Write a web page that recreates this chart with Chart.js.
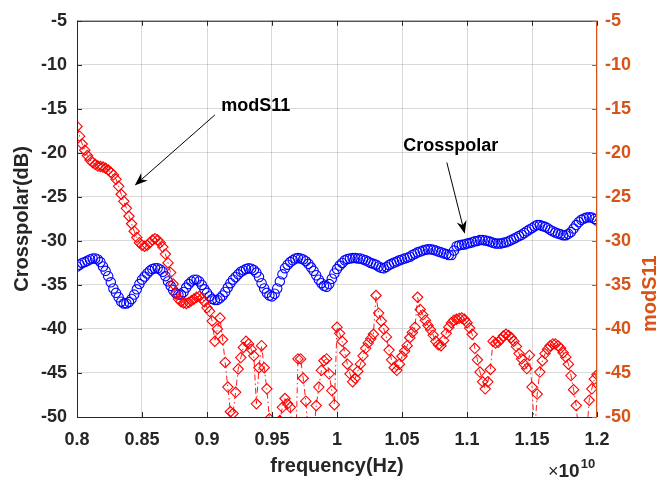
<!DOCTYPE html>
<html><head><meta charset="utf-8">
<script src="https://cdn.jsdelivr.net/npm/chart.js@4.4.1/dist/chart.umd.min.js"></script>
<style>html,body{margin:0;padding:0;background:#fff;}#c{display:block;}</style>
</head><body>
<canvas id="c" width="671" height="483"></canvas>
<script>
// frequency axis in units of 1e10 Hz, sampled every 0.002 (20 MHz)
const freqStart = 0.8;
const freqStep = 0.002;

// Crosspolar (dB), left axis — blue circles
const crosspolar = [
  -32.9,-32.7,-32.5,-32.4,-32.25,-32.1,-32.0,-32.0,-32.1,-32.4,
  -32.9,-33.4,-34.0,-34.7,-35.4,-35.9,-36.4,-36.9,-37.1,-37.1,
  -36.95,-36.6,-36.1,-35.5,-34.9,-34.4,-34.05,-33.7,-33.4,-33.2,
  -33.1,-33.1,-33.25,-33.5,-34.0,-34.6,-35.1,-35.6,-35.95,-36.1,
  -36.1,-35.8,-35.3,-34.9,-34.6,-34.4,-34.4,-34.6,-35.0,-35.5,
  -35.9,-36.3,-36.6,-36.7,-36.7,-36.5,-36.2,-35.8,-35.3,-34.8,
  -34.4,-34.1,-33.8,-33.5,-33.35,-33.2,-33.1,-33.15,-33.3,-33.6,
  -34.1,-34.8,-35.4,-35.9,-36.2,-36.3,-36.0,-35.4,-34.6,-33.8,
  -33.1,-32.7,-32.4,-32.2,-32.0,-31.95,-32.0,-32.1,-32.3,-32.6,
  -33.0,-33.4,-33.9,-34.4,-34.8,-35.1,-35.2,-34.9,-34.3,-33.7,
  -33.2,-32.8,-32.5,-32.2,-32.05,-32.0,-31.95,-31.95,-32.0,-32.0,
  -32.1,-32.2,-32.35,-32.5,-32.6,-32.7,-32.9,-33.05,-33.1,-32.95,
  -32.75,-32.6,-32.45,-32.35,-32.2,-32.1,-32.0,-31.9,-31.8,-31.6,
  -31.45,-31.3,-31.2,-31.1,-31.0,-30.95,-30.95,-31.0,-31.1,-31.2,
  -31.3,-31.4,-31.5,-31.6,-31.6,-31.1,-30.6,-30.5,-30.45,-30.4,
  -30.3,-30.25,-30.15,-30.05,-30.0,-29.9,-29.9,-29.95,-30.0,-30.1,
  -30.2,-30.3,-30.3,-30.3,-30.2,-30.15,-30.05,-29.9,-29.75,-29.6,
  -29.45,-29.3,-29.1,-28.9,-28.7,-28.55,-28.35,-28.2,-28.2,-28.3,
  -28.4,-28.55,-28.75,-28.9,-29.05,-29.15,-29.25,-29.35,-29.35,-29.2,
  -29.0,-28.6,-28.2,-27.85,-27.6,-27.45,-27.35,-27.3,-27.35,-27.5,
  -27.7
];

// modS11 (dB), right axis — red diamonds, dash-dot line
const modS11 = [
  -17.0,-18.1,-19.0,-19.7,-20.3,-20.8,-21.1,-21.3,-21.5,-21.55,
  -21.6,-21.75,-21.95,-22.2,-22.5,-23.0,-23.8,-24.7,-25.5,-26.3,
  -27.2,-28.05,-28.9,-29.6,-30.2,-30.5,-30.6,-30.5,-30.2,-29.9,
  -29.75,-29.9,-30.2,-30.7,-31.5,-32.5,-33.6,-34.9,-36.0,-36.6,
  -36.9,-37.05,-37.1,-37.0,-36.8,-36.6,-36.4,-36.3,-36.5,-36.9,
  -37.6,-38.0,-39.1,-41.4,-40.0,-38.75,-41.2,-43.8,-46.6,-49.4,
  -49.6,-47.2,-44.55,-43.25,-42.1,-41.4,-41.7,-42.3,-43.05,-48.5,
  -44.4,-41.9,-44.4,-46.8,-50.2,-52,-53,-51.5,-50.4,-48.9,
  -47.9,-48.5,-48.9,-52,-55,-43.4,-43.4,-45.6,-48.2,-52,
  -56,-52,-48.7,-46.6,-44.7,-43.6,-43.4,-45.1,-47.0,-48.6,
  -39.8,-40.5,-41.4,-42.7,-44.0,-45.1,-46.0,-45.6,-44.8,-44.0,
  -43.05,-42.2,-41.6,-41.1,-40.6,-36.2,-38.2,-39.1,-40.0,-40.9,
  -42.4,-43.5,-44.4,-44.7,-44.0,-43.1,-42.5,-41.9,-41.0,-40.4,
  -39.8,-36.4,-37.8,-38.4,-39.0,-39.6,-40.1,-40.7,-41.4,-41.8,
  -41.9,-41.3,-40.5,-39.8,-39.3,-39.0,-38.9,-38.8,-38.75,-38.9,
  -39.3,-39.9,-40.6,-42.2,-43.5,-44.9,-46.0,-46.8,-46.0,-44.6,
  -41.4,-41.6,-41.5,-41.2,-40.8,-40.6,-40.75,-41.0,-41.4,-42.0,
  -42.8,-43.4,-44.0,-44.5,-43.0,-46.6,-52,-47.4,-44.9,-43.6,
  -42.8,-42.3,-41.9,-41.7,-41.7,-41.9,-42.2,-42.7,-43.2,-44.0,
  -45.3,-46.9,-48.7,-52,-55,-55,-52,-48.1,-46.8,-45.7,
  -45.2
];

const xTicks = [0.8, 0.85, 0.9, 0.95, 1, 1.05, 1.1, 1.15, 1.2];
const yTicks = [-5, -10, -15, -20, -25, -30, -35, -40, -45, -50];

// annotation anchors in data units [freq(×1e10), dB]
const labelModS11 = {text: 'modS11', at: [0.9375, -14.7]};
const arrowModS11 = {from: [0.906, -15.7], to: [0.8444, -23.7]};
const labelCross = {text: 'Crosspolar', at: [1.0875, -19.2]};
const arrowCross = {from: [1.0845, -21.1], to: [1.0983, -29.2]};
// right-axis title centre (dB on right axis)
const rightTitleAt = -36.0;

const ORANGE = '#D95319';
const DARK = '#262626';
const FONT = '"Liberation Sans", Arial, Helvetica, sans-serif';

const blueData = crosspolar.map((v, i) => ({x: +(freqStart + i * freqStep).toFixed(3), y: v}));
const redData = modS11.map((v, i) => ({x: +(freqStart + i * freqStep).toFixed(3), y: v}));

function fmtTick(v) { return String(Math.round(v * 100) / 100); }

const framePlugin = {
  id: 'frame',
  afterDraw(chart) {
    const {ctx, chartArea: a, scales} = chart;
    const x = scales.x, y = scales.y, y2 = scales.y2;
    ctx.save();
    ctx.lineWidth = 1;
    ctx.strokeStyle = DARK;
    ctx.beginPath();
    ctx.moveTo(a.left + 0.5, a.bottom); ctx.lineTo(a.left + 0.5, a.top);
    ctx.moveTo(a.left, a.top + 0.5); ctx.lineTo(a.right, a.top + 0.5);
    ctx.moveTo(a.left, a.bottom + 0.5); ctx.lineTo(a.right, a.bottom + 0.5);
    xTicks.forEach(v => {
      const px = Math.round(x.getPixelForValue(v)) + 0.5;
      ctx.moveTo(px, a.bottom); ctx.lineTo(px, a.bottom - 5);
      ctx.moveTo(px, a.top); ctx.lineTo(px, a.top + 5);
    });
    yTicks.forEach(v => {
      const py = Math.round(y.getPixelForValue(v)) + 0.5;
      ctx.moveTo(a.left, py); ctx.lineTo(a.left + 5, py);
    });
    ctx.stroke();
    ctx.strokeStyle = ORANGE;
    ctx.beginPath();
    ctx.moveTo(a.right - 0.5, a.top); ctx.lineTo(a.right - 0.5, a.bottom + 1);
    yTicks.forEach(v => {
      const py = Math.round(y2.getPixelForValue(v)) + 0.5;
      ctx.moveTo(a.right, py); ctx.lineTo(a.right - 5, py);
    });
    ctx.stroke();

    // axis titles
    ctx.fillStyle = DARK;
    ctx.font = 'bold 20px ' + FONT;
    ctx.textAlign = 'center';
    ctx.textBaseline = 'middle';
    ctx.fillText('frequency(Hz)', (a.left + a.right) / 2, 466);
    ctx.save();
    ctx.translate(22, (a.top + a.bottom) / 2);
    ctx.rotate(-Math.PI / 2);
    ctx.fillText('Crosspolar(dB)', 0, 0);
    ctx.restore();
    ctx.save();
    ctx.fillStyle = ORANGE;
    ctx.translate(650, y2.getPixelForValue(rightTitleAt));
    ctx.rotate(-Math.PI / 2);
    ctx.fillText('modS11', 0, 0);
    ctx.restore();

    // exponent label
    ctx.fillStyle = DARK;
    ctx.textAlign = 'left';
    ctx.textBaseline = 'alphabetic';
    ctx.font = '18px ' + FONT;
    const ex = 548, ey = 477;
    ctx.fillText('\u00d7', ex, ey);
    const wx = ctx.measureText('\u00d7').width;
    ctx.font = 'bold 19px ' + FONT;
    ctx.fillText('10', ex + wx, ey);
    const w10 = ctx.measureText('10').width;
    ctx.font = 'bold 13px ' + FONT;
    ctx.fillText('10', ex + wx + w10 + 1, ey - 9);

    // annotations
    function P(pt) { return [x.getPixelForValue(pt[0]), y.getPixelForValue(pt[1])]; }
    ctx.font = 'bold 18px ' + FONT;
    ctx.textAlign = 'center';
    ctx.textBaseline = 'middle';
    ctx.fillStyle = '#000';
    [labelModS11, labelCross].forEach(l => { const p = P(l.at); ctx.fillText(l.text, p[0], p[1]); });
    function arrow(ar) {
      const f = P(ar.from), t = P(ar.to);
      const ang = Math.atan2(t[1] - f[1], t[0] - f[0]);
      const L = 13, W = 5;
      const bx = t[0] - L * Math.cos(ang), by = t[1] - L * Math.sin(ang);
      ctx.strokeStyle = '#000'; ctx.lineWidth = 1;
      ctx.beginPath(); ctx.moveTo(f[0], f[1]); ctx.lineTo(bx + 4 * Math.cos(ang), by + 4 * Math.sin(ang)); ctx.stroke();
      ctx.beginPath();
      ctx.moveTo(t[0], t[1]);
      ctx.lineTo(bx + W * Math.sin(ang), by - W * Math.cos(ang));
      ctx.lineTo(bx + 4 * Math.cos(ang), by + 4 * Math.sin(ang));
      ctx.lineTo(bx - W * Math.sin(ang), by + W * Math.cos(ang));
      ctx.closePath(); ctx.fill();
    }
    arrow(arrowModS11); arrow(arrowCross);
    ctx.restore();
  }
};

new Chart(document.getElementById('c'), {
  type: 'scatter',
  data: {
    datasets: [
      {
        label: 'modS11', data: redData, yAxisID: 'y2', order: 0,
        showLine: true, borderColor: '#ff0000', borderWidth: 0.9,
        borderDash: [6, 3, 1.5, 3],
        pointStyle: 'rectRot', pointRadius: 5.2, pointBorderWidth: 1.1,
        pointBorderColor: '#ff0000', pointBackgroundColor: 'rgba(0,0,0,0)'
      },
      {
        label: 'Crosspolar', data: blueData, yAxisID: 'y', order: 1,
        showLine: false,
        pointStyle: 'circle', pointRadius: 4.7, pointBorderWidth: 1.1,
        pointBorderColor: '#0000ff', pointBackgroundColor: 'rgba(0,0,0,0)'
      }
    ]
  },
  options: {
    responsive: false, animation: false, devicePixelRatio: 1,
    layout: {padding: {top: 17, left: 0, right: 0, bottom: 0}},
    plugins: {legend: {display: false}, tooltip: {enabled: false}},
    scales: {
      x: {
        type: 'linear', min: 0.8, max: 1.2,
        afterBuildTicks: s => { s.ticks = xTicks.map(v => ({value: v})); },
        afterFit: s => { s.height = 66; },
        grid: {color: 'rgba(0,0,0,0.15)', drawTicks: false, lineWidth: 1},
        border: {display: false},
        ticks: {color: DARK, padding: 12, maxRotation: 0, autoSkip: false,
          font: {family: FONT, size: 18, weight: 'bold'}, callback: v => fmtTick(v)}
      },
      y: {
        position: 'left', min: -50, max: -5,
        afterBuildTicks: s => { s.ticks = yTicks.map(v => ({value: v})); },
        afterFit: s => { s.width = 77; },
        grid: {color: 'rgba(0,0,0,0.15)', drawTicks: false, lineWidth: 1},
        border: {display: false},
        ticks: {color: DARK, padding: 10, font: {family: FONT, size: 18, weight: 'bold'}}
      },
      y2: {
        position: 'right', min: -50, max: -5,
        afterBuildTicks: s => { s.ticks = yTicks.map(v => ({value: v})); },
        afterFit: s => { s.width = 74; },
        grid: {display: false, drawTicks: false},
        border: {display: false},
        ticks: {color: ORANGE, padding: 8, font: {family: FONT, size: 18, weight: 'bold'}}
      }
    }
  },
  plugins: [framePlugin]
});
</script>
</body></html>
